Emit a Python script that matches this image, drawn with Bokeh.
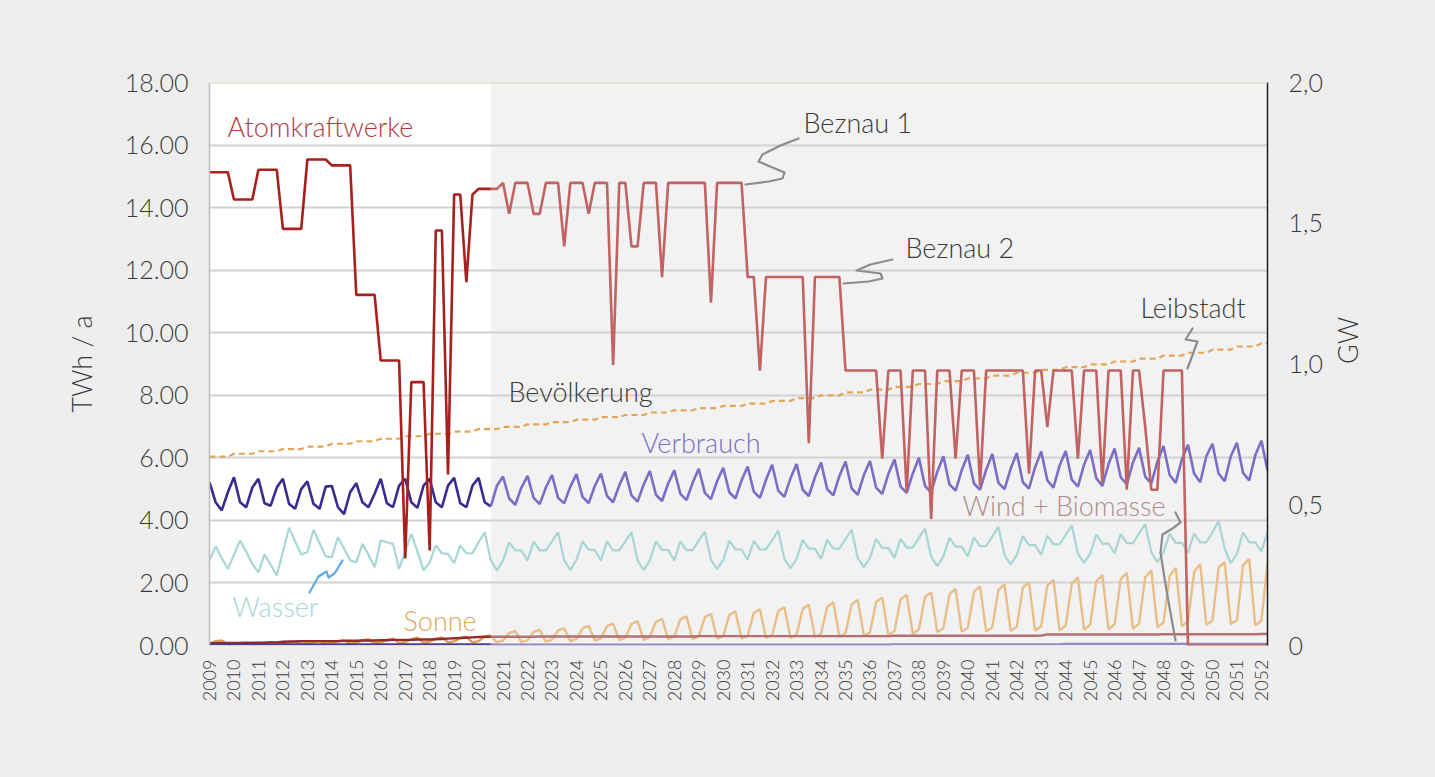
import numpy as np
from bokeh.plotting import figure
from bokeh.models import Range1d, LinearAxis, FixedTicker, Span, Label
from bokeh.embed import file_html
from bokeh.resources import INLINE

# ---------------- data ----------------
YEARS = list(range(2009, 2053))
YEAR_LABELS = [str(y) for y in YEARS]
N_Q = 174            # quarterly points 2009Q1 .. 2052Q2
SPLIT = 46           # last historical quarter (2020 Q3)

LEFT_TICKS = [0, 2, 4, 6, 8, 10, 12, 14, 16, 18]
LEFT_TICK_LABELS = ["0.00", "2.00", "4.00", "6.00", "8.00", "10.00", "12.00", "14.00", "16.00", "18.00"]
RIGHT_TICKS = [0, 0.5, 1, 1.5, 2]
RIGHT_TICK_LABELS = ["0", "0,5", "1,0", "1,5", "2,0"]

akw_hist = [
    15.13, 15.13, 15.13, 15.13,
    14.26, 14.26, 14.26, 14.26,
    15.21, 15.21, 15.21, 15.21,
    13.32, 13.32, 13.32, 13.32,
    15.54, 15.54, 15.54, 15.54,
    15.35, 15.35, 15.35, 15.35,
    11.21, 11.21, 11.21, 11.21,
    9.11, 9.11, 9.11, 9.11,
    2.78, 8.42, 8.42, 8.42,
    3.04, 13.27, 13.27, 5.47,
    14.42, 14.42, 11.62, 14.42,
    14.60, 14.60, 14.60,
]
akw_proj = [
    14.60, 14.60,
    14.79, 13.80, 14.79, 14.79,
    14.79, 13.80, 13.80, 14.79,
    14.79, 14.79, 12.76, 14.79,
    14.79, 14.79, 13.80, 14.79,
    14.79, 14.79, 8.97, 14.79,
    14.79, 12.76, 12.76, 14.79,
    14.79, 14.79, 11.78, 14.79,
    14.79, 14.79, 14.79, 14.79,
    14.79, 14.79, 10.96, 14.79,
    14.79, 14.79, 14.79, 14.79,
    11.78, 11.78, 8.79, 11.78,
    11.78, 11.78, 11.78, 11.78,
    11.78, 11.78, 6.47, 11.78,
    11.78, 11.78, 11.78, 11.78,
    8.79, 8.79, 8.79, 8.79,
    8.79, 8.79, 5.97, 8.79,
    8.79, 8.79, 4.90, 8.79,
    8.79, 8.79, 4.05, 8.79,
    8.79, 8.79, 5.97, 8.79,
    8.79, 8.79, 5.10, 8.79,
    8.79, 8.79, 8.79, 8.79,
    8.79, 8.79, 5.49, 8.79,
    8.79, 6.98, 8.79, 8.79,
    8.79, 8.79, 5.97, 8.79,
    8.79, 8.79, 5.20, 8.79,
    8.79, 8.79, 4.98, 8.79,
    8.79, 7.00, 4.98, 4.98,
    8.79, 8.79, 8.79, 8.79,
    0.0, 0.0, 0.0, 0.0,
    0.0, 0.0, 0.0, 0.0,
    0.0, 0.0, 0.0, 0.0,
    0.0, 0.0,
]

verbrauch_hist = [
    5.22, 4.58, 4.32, 4.90,
    5.38, 4.58, 4.42, 5.05,
    5.33, 4.55, 4.47, 5.05,
    5.33, 4.53, 4.37, 5.00,
    5.25, 4.53, 4.37, 5.08,
    5.10, 4.42, 4.20, 4.90,
    5.19, 4.58, 4.42, 4.85,
    5.33, 4.55, 4.42, 5.11,
    5.33, 4.58, 4.40, 5.11,
    5.33, 4.58, 4.42, 5.11,
    5.36, 4.55, 4.42, 5.11,
    5.36, 4.58, 4.45,
]
verbrauch_proj = [
    4.45, 5.11,
    5.40, 4.70, 4.50, 5.05,
    5.42, 4.72, 4.52, 5.05,
    5.45, 4.72, 4.55, 5.08,
    5.48, 4.75, 4.55, 5.10,
    5.50, 4.78, 4.58, 5.12,
    5.55, 4.80, 4.60, 5.15,
    5.58, 4.82, 4.62, 5.18,
    5.60, 4.85, 4.65, 5.20,
    5.65, 4.88, 4.68, 5.25,
    5.68, 4.90, 4.70, 5.28,
    5.72, 4.92, 4.72, 5.30,
    5.78, 4.95, 4.75, 5.35,
    5.80, 4.98, 4.78, 5.38,
    5.85, 5.00, 4.80, 5.42,
    5.88, 5.02, 4.82, 5.45,
    5.90, 5.05, 4.85, 5.48,
    5.95, 5.08, 4.88, 5.50,
    6.00, 5.10, 4.90, 5.55,
    6.05, 5.15, 4.95, 5.60,
    6.10, 5.18, 4.98, 5.62,
    6.12, 5.20, 5.00, 5.65,
    6.15, 5.22, 5.02, 5.70,
    6.20, 5.28, 5.05, 5.75,
    6.22, 5.30, 5.08, 5.78,
    6.25, 5.35, 5.10, 5.80,
    6.30, 5.38, 5.15, 5.85,
    6.32, 5.40, 5.18, 5.88,
    6.38, 5.45, 5.20, 5.95,
    6.42, 5.50, 5.22, 6.05,
    6.45, 5.50, 5.25, 6.05,
    6.48, 5.52, 5.28, 6.08,
    6.55, 5.60,
]

wasser = [
    2.72, 3.17, 2.80, 2.45,
    2.90, 3.36, 3.00, 2.61,
    2.34, 2.91, 2.58, 2.24,
    3.00, 3.76, 3.33, 2.91,
    2.98, 3.70, 3.27, 2.85,
    2.82, 3.46, 3.10, 2.72,
    2.66, 3.25, 2.90, 2.50,
    3.36, 3.30, 3.25, 2.45,
    3.00, 3.57, 3.00, 2.40,
    2.66, 3.20, 2.95, 2.93,
    2.63, 3.20, 2.95, 2.95,
    3.30,
    3.62, 2.72, 2.40, 2.72, 3.30, 3.04, 3.04, 2.72, 3.33, 3.04, 3.04, 3.33,
    3.62, 2.72, 2.42, 2.74, 3.33, 3.06, 3.06, 2.72, 3.33, 3.04, 3.04, 3.33,
    3.62, 2.72, 2.42, 2.72, 3.33, 3.06, 3.06, 2.72, 3.33, 3.05, 3.05, 3.35,
    3.64, 2.74, 2.44, 2.74, 3.35, 3.07, 3.07, 2.74, 3.35, 3.07, 3.07, 3.37,
    3.67, 2.77, 2.47, 2.77, 3.38, 3.10, 3.10, 2.77, 3.38, 3.10, 3.10, 3.40,
    3.70, 2.80, 2.50, 2.80, 3.41, 3.12, 3.12, 2.80, 3.41, 3.13, 3.13, 3.44,
    3.74, 2.84, 2.54, 2.84, 3.45, 3.16, 3.16, 2.85, 3.46, 3.18, 3.18, 3.49,
    3.79, 2.89, 2.59, 2.89, 3.50, 3.21, 3.21, 2.90, 3.51, 3.23, 3.23, 3.54,
    3.84, 2.94, 2.64, 2.94, 3.55, 3.26, 3.26, 2.95, 3.56, 3.27, 3.27, 3.59,
    3.88, 2.98, 2.66, 2.98, 3.58, 3.28, 3.28, 2.98, 3.58, 3.30, 3.30, 3.62,
    3.97, 3.10, 2.63, 2.93, 3.62, 3.30, 3.30, 3.01, 3.62,
]

sonne_hist = [
    0.06, 0.14, 0.16, 0.04,
    0.05, 0.08, 0.10, 0.04,
    0.05, 0.09, 0.11, 0.05,
    0.06, 0.10, 0.13, 0.05,
    0.07, 0.11, 0.14, 0.06,
    0.08, 0.13, 0.16, 0.06,
    0.09, 0.16, 0.20, 0.07,
    0.10, 0.18, 0.22, 0.08,
    0.11, 0.20, 0.25, 0.09,
    0.12, 0.22, 0.26, 0.10,
    0.13, 0.24, 0.28, 0.10,
    0.14, 0.28, 0.32,
]
sonne_proj = [
    0.32, 0.10,
    0.16, 0.40, 0.46, 0.11,
    0.17, 0.44, 0.50, 0.12,
    0.19, 0.48, 0.55, 0.14,
    0.21, 0.55, 0.63, 0.16,
    0.23, 0.62, 0.70, 0.17,
    0.25, 0.69, 0.78, 0.18,
    0.27, 0.76, 0.85, 0.20,
    0.28, 0.84, 0.93, 0.21,
    0.29, 0.91, 1.01, 0.22,
    0.30, 0.98, 1.09, 0.23,
    0.31, 1.04, 1.16, 0.24,
    0.33, 1.10, 1.22, 0.25,
    0.35, 1.17, 1.30, 0.27,
    0.37, 1.24, 1.38, 0.29,
    0.39, 1.31, 1.46, 0.31,
    0.42, 1.39, 1.54, 0.33,
    0.46, 1.47, 1.62, 0.37,
    0.52, 1.55, 1.70, 0.43,
    0.55, 1.64, 1.81, 0.44,
    0.57, 1.72, 1.89, 0.45,
    0.58, 1.78, 1.95, 0.46,
    0.60, 1.85, 2.02, 0.47,
    0.62, 1.92, 2.10, 0.48,
    0.64, 1.98, 2.18, 0.50,
    0.66, 2.05, 2.25, 0.52,
    0.68, 2.12, 2.32, 0.54,
    0.70, 2.18, 2.40, 0.58,
    0.74, 2.22, 2.48, 0.62,
    0.78, 2.34, 2.61, 0.66,
    0.80, 2.50, 2.66, 0.69,
    0.80, 2.56, 2.77, 0.64,
    0.80, 2.61,
]

wind_hist = [
    0.07, 0.07, 0.07, 0.08,
    0.08, 0.08, 0.08, 0.09,
    0.09, 0.09, 0.10, 0.10,
    0.12, 0.13, 0.13, 0.14,
    0.14, 0.14, 0.14, 0.14,
    0.14, 0.14, 0.15, 0.15,
    0.15, 0.16, 0.16, 0.16,
    0.17, 0.17, 0.18, 0.18,
    0.18, 0.18, 0.19, 0.19,
    0.19, 0.20, 0.21, 0.22,
    0.23, 0.24, 0.25, 0.26,
    0.27, 0.28, 0.28,
]
wind_proj = [
    0.28, 0.28,
    0.28, 0.28, 0.28, 0.28,
    0.28, 0.28, 0.29, 0.29,
    0.29, 0.29, 0.29, 0.29,
    0.29, 0.29, 0.29, 0.29,
    0.29, 0.29, 0.29, 0.29,
    0.29, 0.29, 0.29, 0.29,
    0.29, 0.29, 0.29, 0.29,
    0.29, 0.29, 0.29, 0.29,
    0.30, 0.30, 0.30, 0.30,
    0.30, 0.30, 0.30, 0.30,
    0.30, 0.30, 0.30, 0.30,
    0.30, 0.30, 0.30, 0.30,
    0.30, 0.30, 0.30, 0.30,
    0.30, 0.30, 0.30, 0.30,
    0.30, 0.30, 0.30, 0.30,
    0.30, 0.30, 0.30, 0.30,
    0.31, 0.31, 0.31, 0.31,
    0.31, 0.31, 0.31, 0.31,
    0.31, 0.31, 0.31, 0.31,
    0.31, 0.31, 0.31, 0.31,
    0.31, 0.31, 0.31, 0.31,
    0.31, 0.31, 0.31, 0.31,
    0.32, 0.35, 0.35, 0.35,
    0.35, 0.35, 0.35, 0.35,
    0.35, 0.35, 0.35, 0.35,
    0.35, 0.35, 0.35, 0.35,
    0.35, 0.35, 0.35, 0.35,
    0.36, 0.36, 0.36, 0.36,
    0.36, 0.36, 0.36, 0.36,
    0.36, 0.36, 0.36, 0.36,
    0.36, 0.36, 0.36, 0.36,
    0.37, 0.37,
]

uebrige_hist = [
    0.04, 0.04, 0.04, 0.04, 0.04, 0.04, 0.04, 0.04, 0.04, 0.04, 0.04, 0.04,
    0.04, 0.04, 0.04, 0.04, 0.04, 0.04, 0.04, 0.04, 0.04, 0.04, 0.04, 0.04,
    0.04, 0.04, 0.04, 0.04, 0.04, 0.04, 0.04, 0.04, 0.04, 0.04, 0.04, 0.04,
    0.04, 0.04, 0.04, 0.04, 0.04, 0.04, 0.04, 0.04, 0.04, 0.04, 0.04,
]
uebrige_proj = [
    0.04, 0.03,
    0.03, 0.03, 0.03, 0.03, 0.03, 0.03, 0.03, 0.03, 0.03, 0.03, 0.03, 0.03,
    0.03, 0.03, 0.03, 0.03, 0.03, 0.03, 0.03, 0.03, 0.03, 0.03, 0.03, 0.03,
    0.03, 0.03, 0.03, 0.03, 0.03, 0.03, 0.03, 0.03, 0.03, 0.03, 0.03, 0.03,
    0.03, 0.03, 0.03, 0.03, 0.03, 0.03, 0.03, 0.03, 0.03, 0.03, 0.03, 0.03,
    0.03, 0.03, 0.03, 0.03, 0.03, 0.03, 0.03, 0.03, 0.03, 0.03, 0.03, 0.03,
    0.03, 0.03, 0.03, 0.03, 0.04, 0.04, 0.04, 0.04, 0.04, 0.04, 0.04, 0.04,
    0.04, 0.04, 0.04, 0.04, 0.04, 0.04, 0.04, 0.04, 0.04, 0.04, 0.04, 0.04,
    0.04, 0.04, 0.04, 0.04, 0.04, 0.04, 0.04, 0.04, 0.05, 0.05, 0.05, 0.05,
    0.05, 0.05, 0.05, 0.05, 0.05, 0.05, 0.05, 0.05, 0.05, 0.05, 0.05, 0.05,
    0.05, 0.05, 0.05, 0.05, 0.05, 0.05, 0.05, 0.05, 0.05, 0.05, 0.05, 0.05,
    0.05, 0.05, 0.05, 0.05, 0.05, 0.05,
]

# population trend (annual), drawn on the TWh scale as in the original
bevoelkerung_annual = [
    6.04, 6.13, 6.21, 6.28, 6.36, 6.45, 6.53, 6.61, 6.69, 6.77, 6.84, 6.92,
    6.99, 7.07, 7.14, 7.22, 7.30, 7.37, 7.45, 7.52, 7.59, 7.66, 7.73, 7.82,
    7.91, 8.00, 8.09, 8.18, 8.27, 8.36, 8.45, 8.54, 8.63, 8.72, 8.81, 8.90,
    8.99, 9.08, 9.17, 9.27, 9.36, 9.46, 9.56, 9.66,
]

# ---------------- styling ----------------
FONT = "Lato Light"
TXT = "#3a3a3a"
C_AKW_H, C_AKW_P = "#a8201e", "#c26262"
C_VB_H, C_VB_P = "#3b2a90", "#7a6ec6"
C_WASSER = "#a8d6d4"
C_SONNE_H, C_SONNE_P = "#dc9c48", "#e9be88"
C_WIND_H, C_WIND_P = "#952a2a", "#b07272"
C_UEB_H, C_UEB_P = "#4a3a9a", "#9088c8"
C_BEV = "#e2a659"

quarter_x = [2009 + k / 4 for k in range(N_Q)]
x_hist = quarter_x[:SPLIT + 1]
x_proj = quarter_x[SPLIT:]
bev_q = list(np.repeat(bevoelkerung_annual, 4)[:N_Q])

X0, X1 = quarter_x[0], quarter_x[-1]

p = figure(width=1435, height=777, output_backend="svg", toolbar_location=None,
           x_range=Range1d(X0, X1), y_range=Range1d(0, 18),
           min_border_left=209, min_border_right=168, min_border_top=82, min_border_bottom=132,
           background_fill_color="#f2f2f2", border_fill_color="#eeeeee",
           outline_line_color=None)

# historical period background
p.quad(left=[X0], right=[quarter_x[SPLIT]], bottom=[0], top=[18],
       fill_color="white", line_color=None, level="image")

# grid
p.xgrid.visible = False
p.ygrid.ticker = FixedTicker(ticks=LEFT_TICKS[:-1])
p.ygrid.grid_line_color = "#d2d2d2"
p.ygrid.grid_line_width = 2
p.add_layout(Span(location=18, dimension="width", line_color="#c8e2c2", line_width=2))

# left axis
ya = p.yaxis[0]
ya.ticker = FixedTicker(ticks=LEFT_TICKS)
ya.major_label_overrides = dict(zip(LEFT_TICKS, LEFT_TICK_LABELS))
ya.axis_label = "TWh / a"
ya.axis_label_text_font = FONT
ya.axis_label_text_font_size = "27px"
ya.axis_label_text_font_style = "normal"
ya.axis_label_text_color = TXT
ya.axis_label_standoff = 24
ya.major_label_text_font = FONT
ya.major_label_text_font_size = "25px"
ya.major_label_text_color = TXT
ya.major_label_standoff = 15
ya.major_tick_line_color = None
ya.minor_tick_line_color = None
ya.axis_line_color = "#bdbdbd"
ya.axis_line_width = 1.5

# right axis (GW)
p.extra_y_ranges = {"gw": Range1d(0, 2.0)}
ra = LinearAxis(y_range_name="gw", ticker=FixedTicker(ticks=RIGHT_TICKS),
                major_label_overrides=dict(zip(RIGHT_TICKS, RIGHT_TICK_LABELS)),
                axis_label="GW")
ra.axis_label_text_font = FONT
ra.axis_label_text_font_size = "27px"
ra.axis_label_text_font_style = "normal"
ra.axis_label_text_color = TXT
ra.axis_label_standoff = 22
try:
    ra.axis_label_orientation = np.pi / 2
except Exception:
    pass
ra.major_label_text_font = FONT
ra.major_label_text_font_size = "25px"
ra.major_label_text_color = TXT
ra.major_label_standoff = 15
ra.major_tick_line_color = None
ra.minor_tick_line_color = None
ra.axis_line_color = "#1e1e1e"
ra.axis_line_width = 1.5
p.add_layout(ra, "right")

# bottom axis
xa = p.xaxis[0]
xa.ticker = FixedTicker(ticks=YEARS)
xa.major_label_overrides = dict(zip(YEARS, YEAR_LABELS))
xa.major_label_orientation = np.pi / 2
xa.major_label_text_font = FONT
xa.major_label_text_font_size = "18px"
xa.major_label_text_color = TXT
xa.major_label_standoff = 8
xa.major_tick_line_color = None
xa.minor_tick_line_color = None
xa.axis_line_color = None

# ---------------- series ----------------
p.line(quarter_x, bev_q, line_color=C_BEV, line_width=2.2, line_dash="6 4")
p.line(quarter_x, wasser, line_color=C_WASSER, line_width=2.2)
p.line(x_hist, sonne_hist, line_color=C_SONNE_H, line_width=2.4)
p.line(x_proj, sonne_proj, line_color=C_SONNE_P, line_width=2.4)
p.line(x_hist, wind_hist, line_color=C_WIND_H, line_width=2.4)
p.line(x_proj, wind_proj, line_color=C_WIND_P, line_width=2.4)
p.line(x_hist, uebrige_hist, line_color=C_UEB_H, line_width=2.2)
p.line(x_proj, uebrige_proj, line_color=C_UEB_P, line_width=2.2)
p.line(x_hist, verbrauch_hist, line_color=C_VB_H, line_width=2.6)
p.line(x_proj, verbrauch_proj, line_color=C_VB_P, line_width=2.6)
p.line(x_hist, akw_hist, line_color=C_AKW_H, line_width=2.6)
p.line(x_proj, akw_proj, line_color=C_AKW_P, line_width=2.6)

# ---------------- annotations ----------------
FL, FR, FT, FB = 209.0, 1267.0, 82.0, 645.0   # reference frame in page px


def dx(px):
    return X0 + (px - FL) / (FR - FL) * (X1 - X0)


def dy(py):
    return (FB - py) / (FB - FT) * 18.0


LABELS = [
    ("Atomkraftwerke", 227, 126, "#b23b3b"),
    ("Beznau 1", 803, 122, TXT),
    ("Beznau 2", 905, 247, TXT),
    ("Leibstadt", 1140, 307, TXT),
    ("Bevölkerung", 508, 391, TXT),
    ("Verbrauch", 641, 442, "#7a6ec6"),
    ("Wind + Biomasse", 962, 505, "#b08a8a"),
    ("Wasser", 232, 606, "#a8d6d4"),
    ("Sonne", 403, 620, "#e2a456"),
]
for txt, lx, ly, col in LABELS:
    p.add_layout(Label(x=dx(lx), y=dy(ly), text=txt, text_font=FONT,
                       text_font_size="27px", text_color=col,
                       text_baseline="middle", text_align="left"))

CONNECTORS = [
    ([745, 768, 782, 784, 772, 758, 762, 780, 798], [184, 181, 178, 172, 167, 161, 154, 145, 138], "#8c8c8c"),
    ([843, 868, 882, 880, 856, 870, 892], [283, 281, 278, 273, 270, 264, 259], "#8c8c8c"),
    ([1187, 1197, 1185, 1192], [368, 341, 339, 328], "#8c8c8c"),
    ([1175, 1180, 1172, 1162, 1160, 1166, 1175], [512, 522, 528, 534, 552, 590, 640], "#8c8c8c"),
    ([309, 318, 326, 328, 334, 342], [592, 576, 571, 577, 573, 560], "#62a8e0"),
]
for xs, ys, col in CONNECTORS:
    p.line([dx(v) for v in xs], [dy(v) for v in ys], line_color=col, line_width=2.2,
           line_join="round", line_cap="round")

html = file_html(p, INLINE)
html = html.replace("</head>",
                    "<style>html,body{background:#eeeeee;margin:0;padding:0;}</style></head>", 1)
open("out.html", "w").write(html)
